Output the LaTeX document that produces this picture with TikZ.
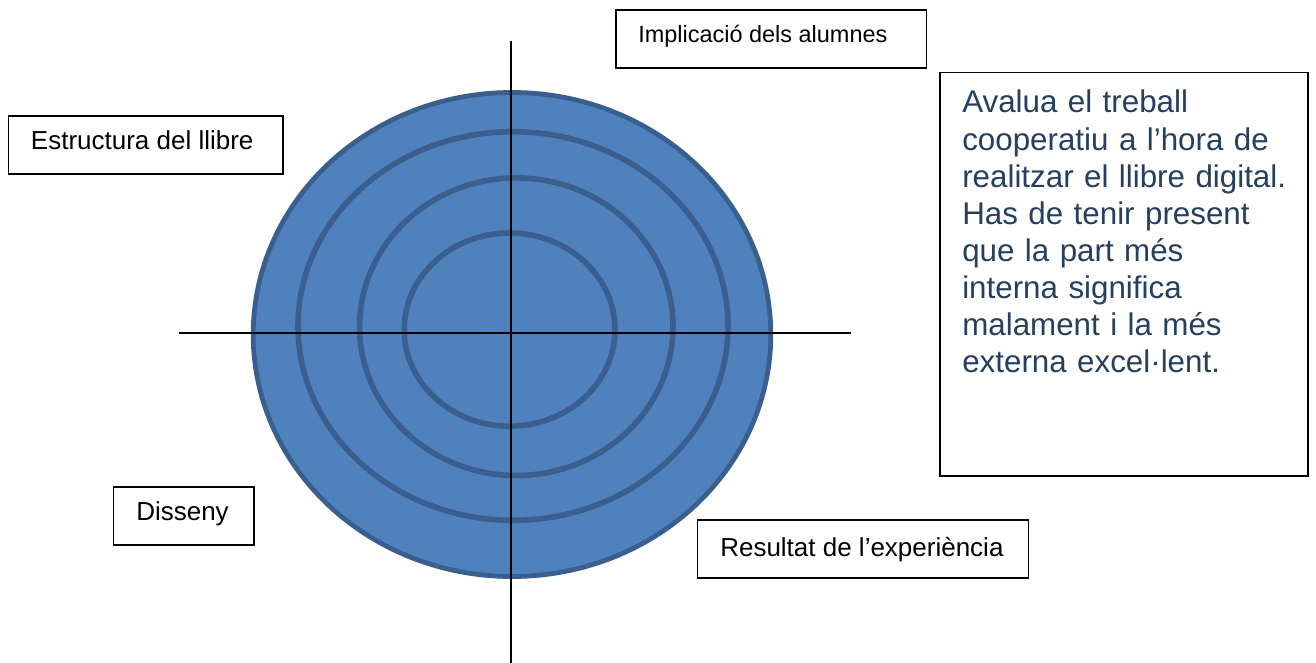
\documentclass[tikz,border=0pt]{standalone}
\usepackage{fontspec}
\setmainfont{Liberation Sans}
\definecolor{ringfill}{HTML}{4F81BD}
\definecolor{ringline}{HTML}{3A5F8E}
\definecolor{notetext}{HTML}{243F60}
\begin{document}
\begin{tikzpicture}[x=0.75pt,y=-0.75pt,
  ring/.style={draw=ringline, line width=4.2pt},
  axis/.style={draw=black, line width=1.5pt},
  lbox/.style={draw=black, line width=1.2pt, fill=white, rectangle, inner sep=0pt, minimum height=43.7pt},
  lbl/.style={anchor=base west, inner sep=0pt, font=\fontsize{19.5}{23}\selectfont},
]
\fill[white] (0,0) rectangle (1316,663);
\useasboundingbox (0,0) rectangle (1316,663);
% target
\filldraw[fill=ringfill, draw=ringline, line width=3.6pt] (512,334.5) ellipse [x radius=258.8, y radius=242];
\draw[ring] (513,326) ellipse [x radius=215, y radius=194.3];
\draw[ring] (516.3,326.7) ellipse [x radius=156.7, y radius=148.8];
\draw[ring] (509.6,329.6) ellipse [x radius=105.4, y radius=96.6];
% axes
\coordinate (vtop) at (510.5,40.7);
\coordinate (vbot) at (510.5,663);
\coordinate (hleft) at (179.3,332.8);
\coordinate (hright) at (850.7,332.8);
\draw[axis] (vtop) -- (vbot);
\draw[axis] (hleft) -- (hright);
% label boxes
\node[lbox, minimum width=233pt] (impl) at (771.35,39.15) {};
\node[lbl, font=\fontsize{17.6}{21}\selectfont] (implT) at (638,42.7) {Implicació dels alumnes};
\node[lbox, minimum width=206pt] (estr) at (145.65,144.85) {};
\node[lbl] (estrT) at (30.7,150) {Estructura del llibre};
\node[lbox, minimum width=105.5pt] (diss) at (183.65,515.85) {};
\node[lbl] (dissT) at (136,520.7) {Disseny};
\node[lbox, minimum width=248.25pt] (resu) at (862.8,549.15) {};
\node[lbl] (resuT) at (720,556.7) {Resultat de l’experiència};
% note
\node[lbox, minimum width=276pt, minimum height=302.5pt] (note) at (1124,274.35) {};
\node[anchor=base west, inner sep=0pt, text width=260pt, align=left, text=notetext,
      font=\fontsize{23.5}{27.8}\selectfont] (noteT) at (962,113)
  {Avalua el treball\\
   cooperatiu a l’hora de\\
   realitzar el llibre digital.\\
   Has de tenir present\\
   que la part més\\
   interna significa\\
   malament i la més\\
   externa excel·lent.};
\end{tikzpicture}
\end{document}
